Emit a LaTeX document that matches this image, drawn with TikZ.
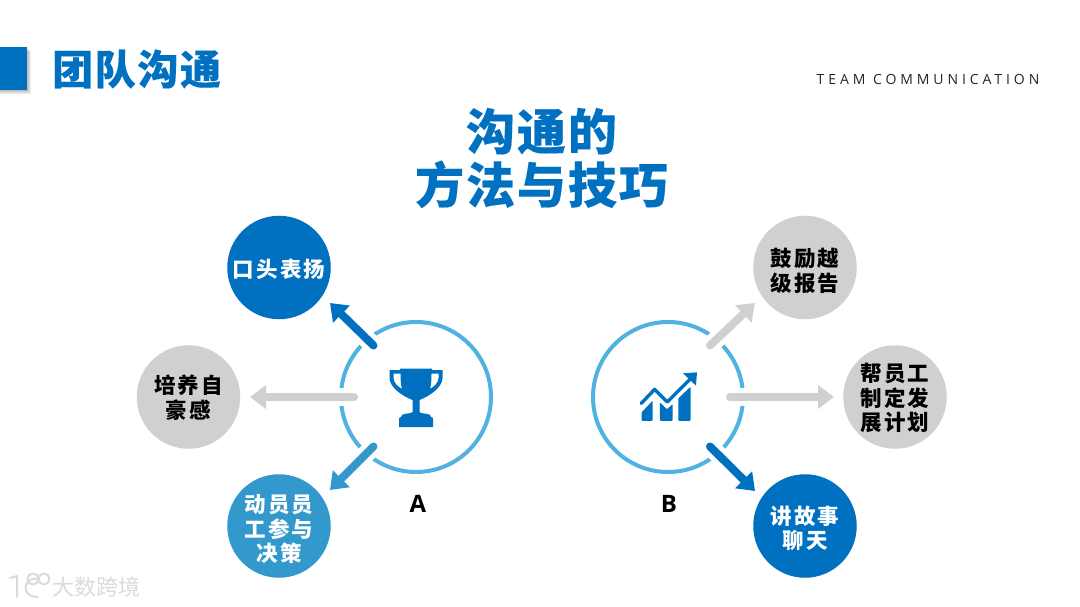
\documentclass[tikz,border=0pt]{standalone}
\usepackage{fontspec}
\usetikzlibrary{arrows.meta,calc}
\newfontfamily\cjkn[LetterSpace=10]{Noto Sans CJK SC}
\newfontfamily\cjkh[LetterSpace=4,FakeBold=0.25]{Noto Sans CJK SC}
\newfontfamily\cjkt[LetterSpace=4,FakeBold=0.25]{Noto Sans CJK SC}
\newfontfamily\cjkw{Noto Sans CJK SC}
\newfontfamily\latn[LetterSpace=28]{Open Sans}
\newfontfamily\latb{Open Sans}
\definecolor{mainblue}{HTML}{0070C0}
\definecolor{ringblue}{HTML}{50B2E0}
\definecolor{midblue}{HTML}{3399CC}
\definecolor{softgray}{HTML}{D0D0D0}
\newcommand\lowr[1]{\rule{0pt}{\dimexpr 20pt+2\dimexpr #1pt\relax\relax}}
\tikzset{
 bubble/.style={circle,minimum size=103.5pt,inner sep=0pt,align=center,font=\cjkn\bfseries\fontsize{21.5}{24.5}\selectfont},
 bluebub/.style={bubble,fill=mainblue,text=white},
 midbub/.style={bubble,fill=midblue,text=white},
 graybub/.style={bubble,fill=softgray,text=black},
 ring/.style={circle,minimum size=150pt,inner sep=0pt,draw=ringblue,line width=4pt},
 halo/.style={draw=white,line width=18pt},
 arw/.style={line width=8pt,line cap=round,-{Triangle[length=16pt,width=23pt]}},
 shade/.style={fill=black,opacity=0.07},
 iconfill/.style={fill=mainblue,draw=none}
}
\begin{document}
\begin{tikzpicture}[x=1pt,y=-1pt]
\useasboundingbox[fill=white] (0,0) rectangle (1080,607);
% header tab
\foreach \d in {1,2,3,4}{\fill[shade] (0,{47+\d}) rectangle ({27+\d},{90+\d});}
\fill[mainblue] (0,47) rectangle (27,90);
\node[anchor=west,inner sep=0pt,text=mainblue,font=\cjkh\bfseries\fontsize{41}{44}\selectfont] (head) at (52,69) {团队沟通};
\node[anchor=east,inner sep=0pt,text=black!85,font=\latn\fontsize{14}{16}\selectfont] (eng) at (1039.5,79) {TEAM COMMUNICATION};
\node[inner sep=0pt,align=center,text=mainblue,font=\cjkt\bfseries\fontsize{49}{53.5}\selectfont] (main) at (541.5,158) {沟通的\\方法与技巧};
% rings
\node[ring] (ra) at (416,397) {};
\node[ring] (rb) at (668,397) {};
% bubbles
\node[bluebub] (b1) at (279,267.5) {\lowr{1}口头表扬};
\node[graybub] (b2) at (188.5,397) {\lowr{0}培养自\\豪感};
\node[midbub] (b3) at (279,526) {\lowr{2.5}动员员\\工参与\\决策};
\node[graybub] (b4) at (805,267.5) {\lowr{2.5}鼓励越\\级报告};
\node[graybub] (b5) at (895,397) {\lowr{0.5}帮员工\\制定发\\展计划};
\node[bluebub] (b6) at (805,526) {\lowr{1.5}讲故事\\聊天};
% arrow ends
\coordinate (s1) at (373.5,345.5); \coordinate (t1) at (330,303);
\coordinate (s2) at (354,397);     \coordinate (t2) at (250,397);
\coordinate (s3) at (373.5,446.5); \coordinate (t3) at (330,490);
\coordinate (s4) at (710,345.5);   \coordinate (t4) at (755,303);
\coordinate (s5) at (730,397);     \coordinate (t5) at (834,397);
\coordinate (s6) at (710,446.5);   \coordinate (t6) at (755,491);
\draw[halo] (s1) -- ($(s1)!0.6!(t1)$);
\draw[halo] (s2) -- ($(s2)!0.4!(t2)$);
\draw[halo] (s3) -- ($(s3)!0.6!(t3)$);
\draw[halo] (s4) -- ($(s4)!0.6!(t4)$);
\draw[halo] (s5) -- ($(s5)!0.4!(t5)$);
\draw[halo] (s6) -- ($(s6)!0.6!(t6)$);
\draw[arw,draw=mainblue,fill=mainblue] (s1) -- (t1);
\draw[arw,draw=softgray,fill=softgray] (s2) -- (t2);
\draw[arw,draw=midblue,fill=midblue] (s3) -- (t3);
\draw[arw,draw=softgray,fill=softgray] (s4) -- (t4);
\draw[arw,draw=softgray,fill=softgray] (s5) -- (t5);
\draw[arw,draw=mainblue,fill=mainblue] (s6) -- (t6);
% labels
\node[inner sep=0pt,font=\latb\bfseries\fontsize{24}{26}\selectfont] (la) at (418,504) {A};
\node[inner sep=0pt,font=\latb\bfseries\fontsize{24}{26}\selectfont] (lb) at (669,504) {B};
% trophy
\begin{scope}[shift={(416,397)}]
\fill[iconfill,even odd rule]
 (-26.5,-27) -- (-16,-27) -- (-16,-28.5) -- (16,-28.5) -- (16,-27) -- (26.5,-27) -- (26.5,-19)
 .. controls (26.5,-10) and (14,-1) .. (3.5,3) -- (3.5,15)
 .. controls (4,17) and (12,16) .. (14,18) -- (15,20) .. controls (17,20) and (17,21) .. (17,23) -- (17,30) -- (-17,30) -- (-17,23)
 .. controls (-17,21) and (-17,20) .. (-15,20) -- (-14,18) .. controls (-12,16) and (-4,17) .. (-3.5,15) -- (-3.5,3)
 .. controls (-14,-1) and (-26.5,-10) .. (-26.5,-19) -- cycle
 (-22.5,-23.5) -- (-15.5,-23.5) .. controls (-15.5,-16) and (-15,-11) .. (-14,-8) .. controls (-19,-11) and (-22.5,-15) .. (-22.5,-19) -- cycle
 (22.5,-23.5) -- (15.5,-23.5) .. controls (15.5,-16) and (15,-11) .. (14,-8) .. controls (19,-11) and (22.5,-15) .. (22.5,-19) -- cycle;
\end{scope}
% chart
\begin{scope}[shift={(580,290)},x=0.3333pt,y=-0.3333pt]
\fill[iconfill,rounded corners=1pt] (185,393) -- (185,367) -- (218,332) -- (218,393) -- cycle;
\fill[iconfill,rounded corners=1pt] (240,393) -- (240,337) -- (261,358) -- (278,342) -- (278,393) -- cycle;
\fill[iconfill,rounded corners=1pt] (295,393) -- (295,325) -- (332,290) -- (332,393) -- cycle;
\draw[draw=mainblue,line width=3.4pt,line cap=round,line join=round] (184,340) -- (224,298) -- (262,336) -- (335,263);
\fill[iconfill] (309,250) -- (351,247) -- (348,287) -- cycle;
\end{scope}
% watermark
\begin{scope}[draw=black!14,line width=2pt,line cap=round]
\draw (10,578) -- (17,576) -- (17,597);
\draw (38,579) .. controls (24,576) and (19,597) .. (38,597);
\draw (33,579) circle (5.5pt);
\draw (44,579) circle (5.5pt);
\end{scope}
\node[anchor=west,inner sep=0pt,text=black!14,font=\cjkw\fontsize{22}{24}\selectfont] (wm) at (52,587) {大数跨境};
\end{tikzpicture}
\end{document}
